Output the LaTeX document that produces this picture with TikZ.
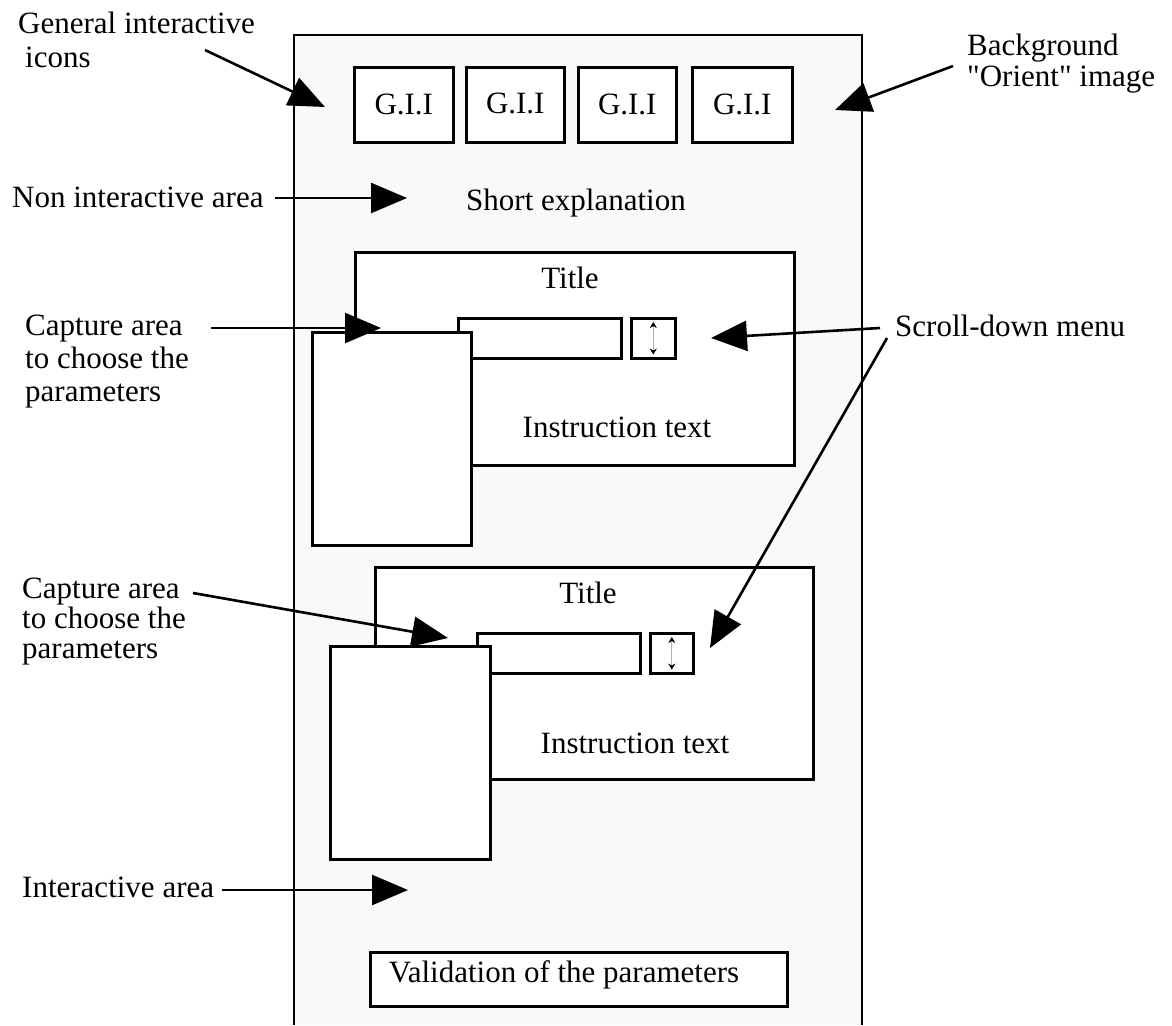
\documentclass[tikz,border=0pt]{standalone}
\usepackage{fontspec}
\setmainfont{Liberation Serif}[Ligatures=TeXOff]
\usetikzlibrary{arrows.meta}
\definecolor{panelgray}{RGB}{249,249,249}
\tikzset{
  frame/.style={draw,line width=2.6pt,fill=white,inner sep=0pt,anchor=north west},
  lbl/.style={inner sep=0pt,align=left,anchor=base west},
  pointer/.style={line width=2.6pt,-{Triangle[length=36pt,width=30pt]}},
  updown/.style={gray!60,line width=1pt,{Stealth[black,length=6pt,width=7pt]}-{Stealth[black,length=6pt,width=7pt]}},
}
\begin{document}
\begin{tikzpicture}[x=1pt,y=-1pt,font=\fontsize{31}{33}\selectfont,line join=miter]
\useasboundingbox (0,0) rectangle (1172,1025);
% background image
\fill[panelgray] (294,35) rectangle (862,1025);
\draw[line width=2.6pt] (294,1025)--(294,35)--(862,35)--(862,1025);
% icons
\foreach \x/\w/\n/\t in {353/99/1/G.I.I,465/98/2/{\raisebox{3pt}{G.I.I}},577/98/3/G.I.I,691/100/4/G.I.I}
  \node[frame,minimum width=\w pt,minimum height=75pt] (gii\n) at (\x,66) {\t};
\node (short) at (576,203) {Short explanation};
% first capture area
\node[frame,minimum width=439pt,minimum height=213pt] (title1box) at (354,251) {};
\node (title1) at (570,278) {Title};
\node (instr1) at (617,427) {Instruction text};
\node[frame,minimum width=163pt,minimum height=40pt] (field1) at (457,317) {};
\node[frame,minimum width=44pt,minimum height=40pt] (scroll1) at (630,317) {};
\draw[updown] ([yshift=-5pt]scroll1.north)--([yshift=5pt]scroll1.south);
\node[frame,minimum width=159pt,minimum height=213pt] (capture1) at (311,331) {};
% second capture area
\node[frame,minimum width=438pt,minimum height=212pt] (title2box) at (374,566) {};
\node (title2) at (588,593) {Title};
\node (instr2) at (635,743) {Instruction text};
\node[frame,minimum width=163pt,minimum height=40pt] (field2) at (476,632) {};
\node[frame,minimum width=43pt,minimum height=40pt] (scroll2) at (649,632) {};
\draw[updown] ([yshift=-5pt]scroll2.north)--([yshift=5pt]scroll2.south);
\node[frame,minimum width=160pt,minimum height=213pt] (capture2) at (329,645) {};
% validation
\node[frame,minimum width=417pt,minimum height=54pt] (valid) at (369,951) {};
\node (validtxt) at (564,975) {Validation of the parameters};
% labels (base = last line)
\node[lbl,font=\fontsize{31}{34}\selectfont] (gilbl) at (18,67) {General interactive\\\hspace{7pt}icons};
\node[lbl,font=\fontsize{31}{31}\selectfont] (bglbl) at (967,86) {Background\\"Orient" image};
\node[lbl] (nonlbl) at (12,207) {Non interactive area};
\node[lbl] (cap1lbl) at (25,401) {Capture area\\to choose the\\parameters};
\node[lbl,font=\fontsize{31}{30}\selectfont] (cap2lbl) at (22,658) {Capture area\\to choose the\\parameters};
\node[lbl] (scrolllbl) at (895,336) {Scroll-down menu};
\node[lbl] (intlbl) at (22,897) {Interactive area};
% arrow ends
\coordinate (giS) at (205,50);      \coordinate (giT) at (325,107);
\coordinate (bgS) at (953,66);      \coordinate (bgT) at (835,110);
\coordinate (nonS) at (275,198);    \coordinate (nonT) at (407,198);
\coordinate (cap1S) at (211,328);   \coordinate (cap1T) at (381,328);
\coordinate (cap2S) at (193,593);   \coordinate (cap2T) at (448,638);
\coordinate (sc1S) at (880,328);    \coordinate (sc1T) at (711,338);
\coordinate (sc2S) at (887,338);    \coordinate (sc2T) at (710,648);
\coordinate (intS) at (222,890);    \coordinate (intT) at (408,890);
\foreach \a in {gi,bg,non,cap1,cap2,sc1,sc2,int}
  \draw[pointer] (\a S)--(\a T);
\end{tikzpicture}
\end{document}
